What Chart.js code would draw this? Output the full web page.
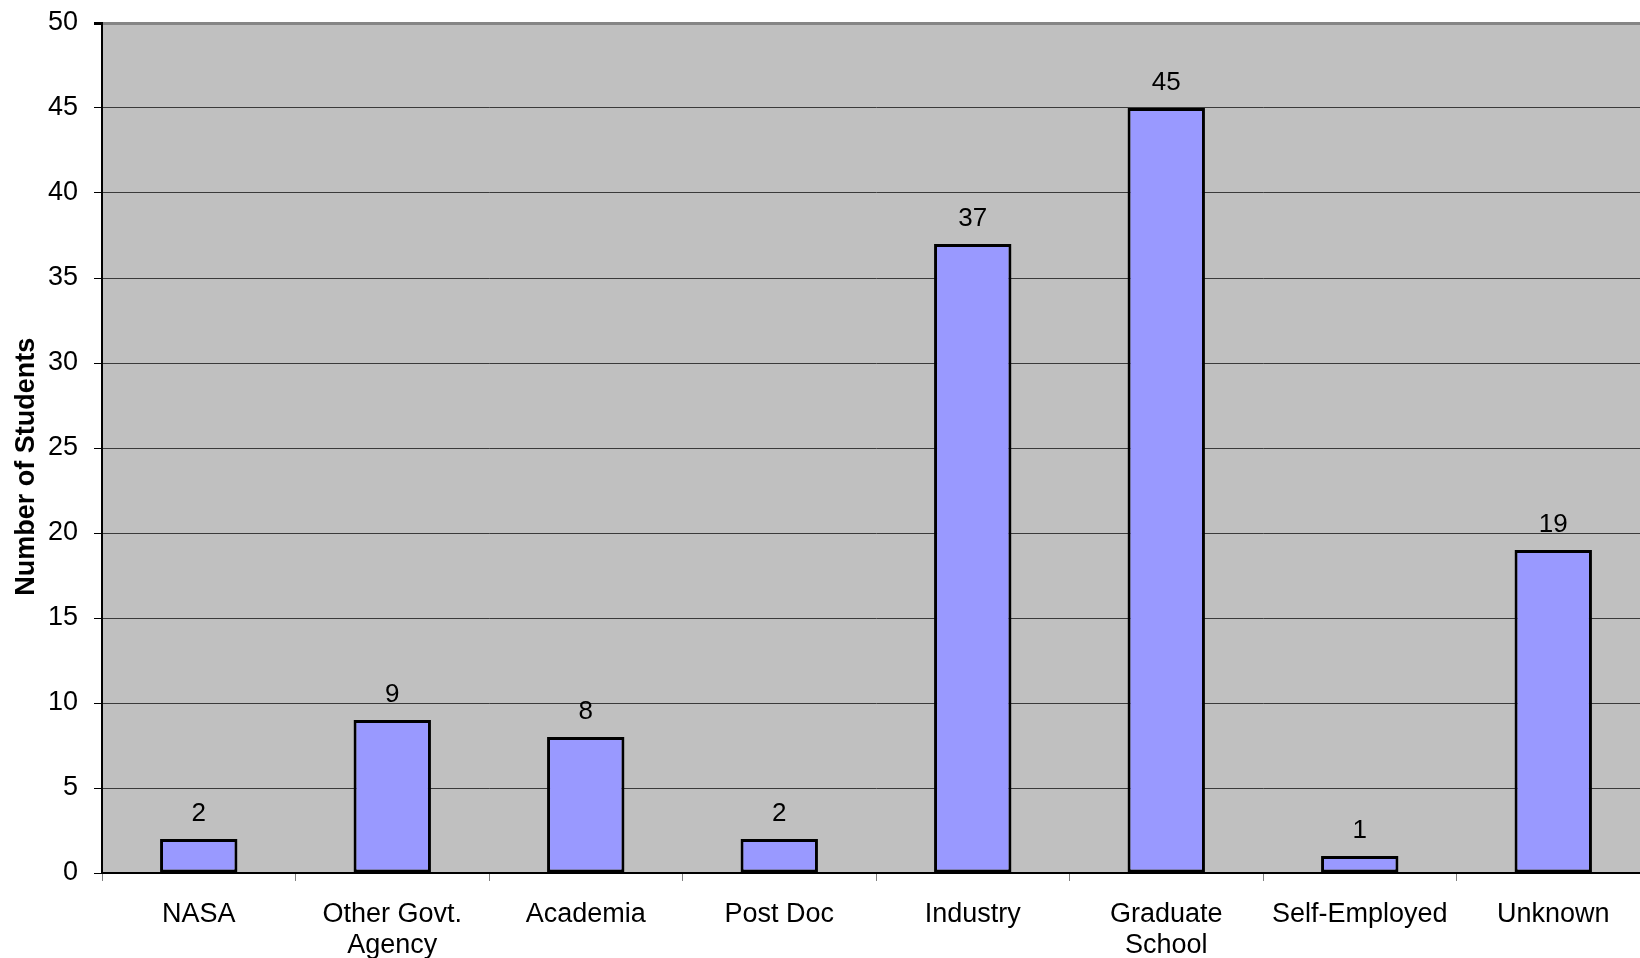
<!DOCTYPE html>
<html>
<head>
<meta charset="utf-8">
<script src="https://cdn.jsdelivr.net/npm/chart.js@4/dist/chart.umd.min.js"></script>
<style>
  html, body { margin: 0; padding: 0; background: #fff; overflow: hidden; }
  #wrap { width: 1660px; height: 958px; }
</style>
</head>
<body>
<div id="wrap"><canvas id="jobChart" width="1660" height="958"></canvas></div>
<script>
// categories and counts
var categories = ["NASA", ["Other Govt.", "Agency"], "Academia", "Post Doc", "Industry", ["Graduate", "School"], "Self-Employed", "Unknown"];
var students = [2, 9, 8, 2, 37, 45, 1, 19];
var yTicks = [0, 5, 10, 15, 20, 25, 30, 35, 40, 45, 50];

var FONT = "'Liberation Sans', Arial, sans-serif";

// grey plot background
var plotBackground = {
    id: 'plotBackground',
    beforeDraw: function (chart) {
        var a = chart.chartArea, ctx = chart.ctx;
        ctx.save();
        ctx.fillStyle = '#c0c0c0';
        ctx.fillRect(a.left, a.top, a.right - a.left, a.bottom - a.top);
        ctx.restore();
    }
};

// value printed above each bar
var valueLabels = {
    id: 'valueLabels',
    afterDatasetsDraw: function (chart) {
        var ctx = chart.ctx;
        var meta = chart.getDatasetMeta(0);
        ctx.save();
        ctx.font = '26px ' + FONT;
        ctx.fillStyle = '#000';
        ctx.textAlign = 'center';
        ctx.textBaseline = 'middle';
        meta.data.forEach(function (bar, i) {
            ctx.fillText(String(students[i]), bar.x, bar.y - 25);
        });
        ctx.restore();
    }
};

new Chart(document.getElementById('jobChart').getContext('2d'), {
    type: 'bar',
    data: {
        labels: categories,
        datasets: [{
            data: students,
            backgroundColor: '#9999ff',
            borderColor: '#000',
            borderWidth: 3,
            borderSkipped: false,
            categoryPercentage: 1,
            barPercentage: 0.4
        }]
    },
    options: {
        responsive: false,
        animation: false,
        devicePixelRatio: 1,
        layout: { padding: { top: 23, right: 10, left: 0, bottom: 0 } },
        plugins: {
            legend: { display: false },
            tooltip: { enabled: false }
        },
        scales: {
            y: {
                min: 0,
                max: 50,
                afterBuildTicks: function (scale) {
                    scale.ticks = yTicks.map(function (v) { return { value: v }; });
                },
                afterFit: function (scale) {
                    scale.width = 102;
                    scale.paddingTop = 0;
                    scale.paddingBottom = 0;
                },
                ticks: {
                    color: '#000',
                    font: { family: FONT, size: 27 },
                    padding: 16
                },
                grid: {
                    color: function (c) { return c.tick && c.tick.value === 50 ? '#858585' : '#3a3a3a'; },
                    lineWidth: function (c) { return c.tick && c.tick.value === 50 ? 3 : 1; },
                    tickColor: '#000',
                    tickLength: 8,
                    drawTicks: true
                },
                border: { display: true, color: '#000', width: 2 },
                title: {
                    display: true,
                    text: 'Number of Students     ',
                    color: '#000',
                    font: { family: FONT, size: 27, weight: 'bold' },
                    padding: { top: 10, bottom: 0 }
                }
            },
            x: {
                afterFit: function (scale) {
                    scale.height = 85;
                    scale.paddingLeft = 0;
                    scale.paddingRight = 0;
                },
                ticks: {
                    color: '#000',
                    font: { family: FONT, size: 27, lineHeight: 1.15 },
                    padding: 18,
                    maxRotation: 0,
                    autoSkip: false
                },
                grid: {
                    offset: true,
                    drawOnChartArea: false,
                    color: '#808080',
                    tickLength: 8
                },
                border: { display: true, color: '#000', width: 2 }
            }
        }
    },
    plugins: [plotBackground, valueLabels]
});
</script>
</body>
</html>
